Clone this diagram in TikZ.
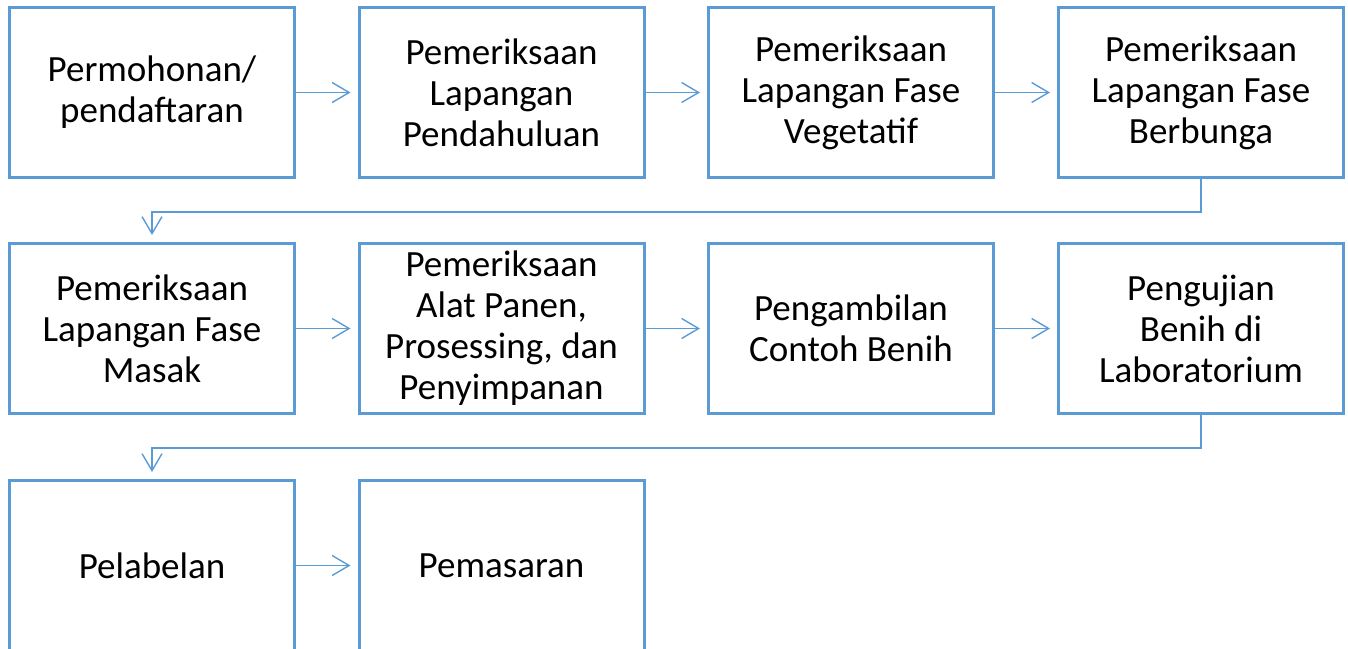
\documentclass[tikz,border=0pt]{standalone}
\usepackage{fontspec}
\setmainfont{Carlito}
\usetikzlibrary{arrows.meta}

\begin{document}
\begin{tikzpicture}[x=1pt,y=-1pt]

\tikzset{step box/.style = {shape=rectangle,draw=boxblue,line width=3pt,minimum width=285pt,minimum height=170pt,align=center,font=\fontsize{37}{41}\selectfont}}
\tikzset{flow/.style = {draw=boxblue,line width=1.4pt,-{Straight Barb[length=17pt,width=20pt,line width=1.4pt]},shorten >=7pt}}
\definecolor{boxblue}{HTML}{5B9BD5}
\useasboundingbox (0,0) rectangle (1348,648);
%boxes
\node[step box] (1) at (152,92.5) {Permohonan/\\pendaftaran};
\node[step box] (2) at (501.5,92.5) {Pemeriksaan\\Lapangan\\Pendahuluan};
\node[step box] (3) at (851,92.5) {Pemeriksaan\\Lapangan Fase\\Vegetatif};
\node[step box] (4) at (1201,92.5) {Pemeriksaan\\Lapangan Fase\\Berbunga};
\node[step box] (5) at (152,328.5) {Pemeriksaan\\Lapangan Fase\\Masak};
\node[step box] (6) at (501.5,328.5) {Pemeriksaan\\Alat Panen,\\Prosessing, dan\\Penyimpanan};
\node[step box] (7) at (851,328.5) {Pengambilan\\Contoh Benih};
\node[step box] (8) at (1201,328.5) {Pengujian\\Benih di\\Laboratorium};
\node[step box] (9) at (152,565.5) {Pelabelan};
\node[step box] (10) at (501.5,565.5) {Pemasaran};
%arrows
\draw[flow] (1) -- (2);
\draw[flow] (2) -- (3);
\draw[flow] (3) -- (4);
\draw[flow] (4.south) -- ++(0,33) -| (5.north);
\draw[flow] (5) -- (6);
\draw[flow] (6) -- (7);
\draw[flow] (7) -- (8);
\draw[flow] (8.south) -- ++(0,33) -| (9.north);
\draw[flow] (9) -- (10);

\end{tikzpicture}
\end{document}
